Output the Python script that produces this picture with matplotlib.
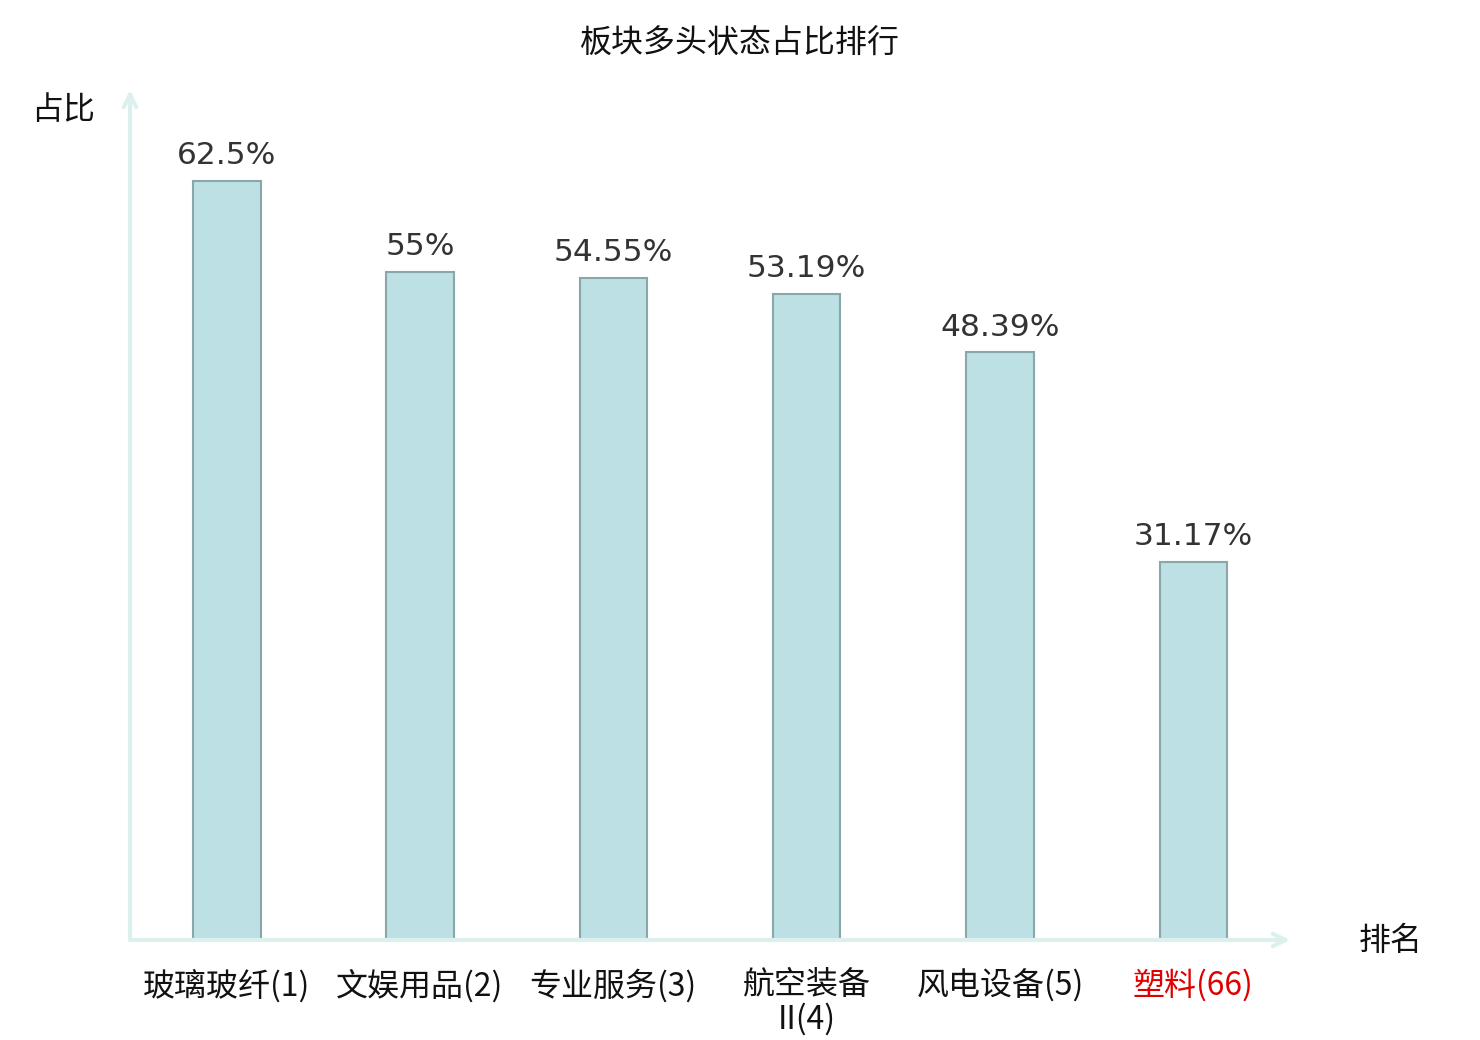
import matplotlib
matplotlib.use('Agg')
import matplotlib.pyplot as plt

# ── data ─────────────────────────────────────────────────────────────────────
categories = ['玻璃玻纤(1)', '文娱用品(2)', '专业服务(3)', '航空装备\nII(4)', '风电设备(5)', '塑料(66)']
shares     = [62.5, 55, 54.55, 53.19, 48.39, 31.17]
value_text = ['62.5%', '55%', '54.55%', '53.19%', '48.39%', '31.17%']
label_colors = ['#111111', '#111111', '#111111', '#111111', '#111111', '#e00000']

CJK = ['Noto Sans CJK SC', 'DejaVu Sans']
plt.rcParams['font.family'] = CJK

BAR_FACE  = '#bce0e3'
BAR_EDGE  = '#8aa6a8'
AXIS_COL  = '#dcf1ee'
CJK_SIZE  = 23

fig = plt.figure(figsize=(14.8, 10.4), dpi=100)
ax = fig.add_axes([130 / 1480, 100 / 1040, 1160 / 1480, 850 / 1040])

x = list(range(len(categories)))
ax.bar(x, shares, width=0.35, color=BAR_FACE, edgecolor=BAR_EDGE, linewidth=1.5, zorder=3)

for xi, v, t in zip(x, shares, value_text):
    ax.annotate(t, xy=(xi, v), xytext=(0, 12), textcoords='offset points',
                ha='center', va='baseline', fontsize=22.5, color='#333333',
                family='DejaVu Sans')

ax.set_xlim(-0.5, len(categories) - 0.5)
ax.set_ylim(0, 70)

for s in ax.spines.values():
    s.set_visible(False)
ax.set_yticks([])
ax.set_xticks(x)
ax.set_xticklabels(categories, fontsize=CJK_SIZE, linespacing=1.05)
ax.tick_params(axis='x', length=0, pad=21)
for lbl, c in zip(ax.get_xticklabels(), label_colors):
    lbl.set_color(c)

# axis arrows
arrow = dict(arrowstyle='->,head_length=0.9,head_width=0.45', color=AXIS_COL, lw=3,
             shrinkA=0, shrinkB=0)
ax.annotate('', xy=(0, 1), xytext=(0, 0), xycoords='axes fraction',
            arrowprops=arrow, annotation_clip=False)
ax.annotate('', xy=(1, 0), xytext=(0, 0), xycoords='axes fraction',
            arrowprops=arrow, annotation_clip=False)

# axis names and title
fig.text(63 / 1480, 1 - 110 / 1040, '占比', fontsize=CJK_SIZE, ha='center', va='center', color='#111111')
fig.text(1391 / 1480, 1 - 941 / 1040, '排名', fontsize=CJK_SIZE, ha='center', va='center', color='#111111')
fig.text(0.5, 1 - 44 / 1040, '板块多头状态占比排行', fontsize=CJK_SIZE, ha='center', va='center', color='#111111')

fig.savefig('out.png', dpi=100)
